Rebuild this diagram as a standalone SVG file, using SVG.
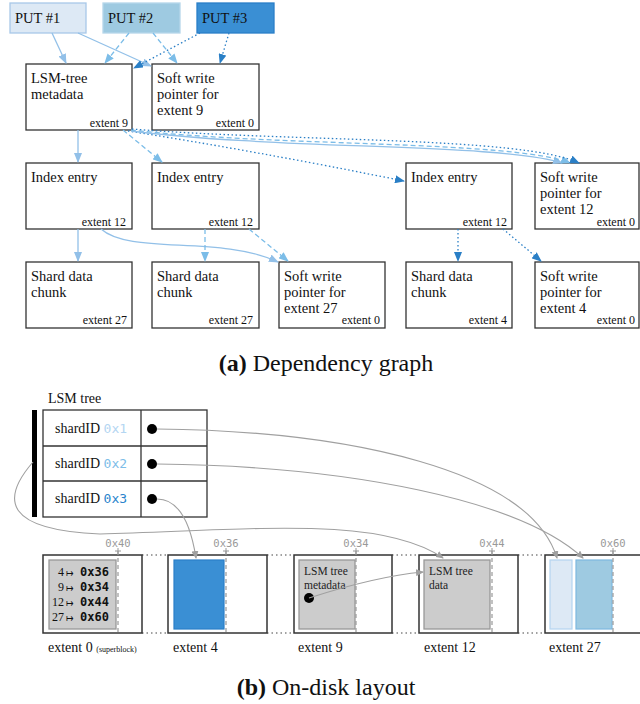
<svg xmlns="http://www.w3.org/2000/svg" width="640" height="704" viewBox="0 0 640 704">
<style>
.node{fill:#fff;stroke:#333;stroke-width:1.3}
.t{font-family:"Liberation Serif",serif;font-size:14.5px;fill:#111}
.s{font-family:"Liberation Serif",serif;font-size:12px;fill:#111;text-anchor:end}
.e1{fill:none;stroke:#92c0e8;stroke-width:1.3}
.e2{fill:none;stroke:#7cbde8;stroke-width:1.3;stroke-dasharray:5 3}
.e3{fill:none;stroke:#2a7fc6;stroke-width:1.3;stroke-dasharray:1.5 2.5}
.cap{font-family:"Liberation Serif",serif;font-size:24px;fill:#111;text-anchor:middle}
.ext{fill:#fff;stroke:#333;stroke-width:1.5}
.gray{fill:#cccccc;stroke:#999;stroke-width:1.3}
.dash{stroke:#999;stroke-width:1.2;stroke-dasharray:4 3;fill:none}
.dotc{stroke:#444;stroke-width:1.2;stroke-dasharray:1.5 3;fill:none}
.mono{font-family:"DejaVu Sans Mono",monospace}
.addr{font-family:"DejaVu Sans Mono",monospace;font-size:10.5px;fill:#999;text-anchor:middle}
.ptr{fill:none;stroke:#a0a0a0;stroke-width:1.1}
.lbl{font-family:"Liberation Serif",serif;font-size:14px;fill:#111}
</style>
<defs>
<marker id="a1" markerUnits="userSpaceOnUse" markerWidth="10" markerHeight="8" refX="9" refY="4" orient="auto"><path d="M0,0 L10,4 L0,8 z" fill="#92c0e8"/></marker>
<marker id="a2" markerUnits="userSpaceOnUse" markerWidth="10" markerHeight="8" refX="9" refY="4" orient="auto"><path d="M0,0 L10,4 L0,8 z" fill="#7cbde8"/></marker>
<marker id="a3" markerUnits="userSpaceOnUse" markerWidth="10" markerHeight="8" refX="9" refY="4" orient="auto"><path d="M0,0 L10,4 L0,8 z" fill="#2a7fc6"/></marker>
<marker id="ag" markerUnits="userSpaceOnUse" markerWidth="8" markerHeight="7" refX="7" refY="3.5" orient="auto"><path d="M0,0 L8,3.5 L0,7 z" fill="#a0a0a0"/></marker>
</defs>

<!-- (a) Dependency graph -->
<g id="put1"><rect x="10" y="3" width="76" height="30" fill="#dde9f5" stroke="#a8c8e8" stroke-width="1.3"/><text class="t" x="15" y="23">PUT #1</text></g>
<g id="put2"><rect x="103" y="3" width="77" height="30" fill="#9ecae1" stroke="#b5d6ea" stroke-width="1.3"/><text class="t" x="108" y="23">PUT #2</text></g>
<g id="put3"><rect x="197" y="3" width="77" height="30" fill="#3a8fd4" stroke="#2a7fc8" stroke-width="1.3"/><text class="t" x="202" y="23">PUT #3</text></g>

<g id="lsm"><rect class="node" x="26" y="64" width="106" height="66"/><text class="t" x="31" y="83">LSM-tree</text><text class="t" x="31" y="99">metadata</text><text class="s" x="128" y="127">extent 9</text></g>
<g id="sw9"><rect class="node" x="152" y="64" width="107" height="66"/><text class="t" x="157" y="83">Soft write</text><text class="t" x="157" y="99">pointer for</text><text class="t" x="157" y="115">extent 9</text><text class="s" x="254" y="127">extent 0</text></g>

<g id="idx1"><rect class="node" x="26" y="163" width="106" height="66"/><text class="t" x="31" y="182">Index entry</text><text class="s" x="126" y="226">extent 12</text></g>
<g id="idx2"><rect class="node" x="152" y="163" width="107" height="66"/><text class="t" x="157" y="182">Index entry</text><text class="s" x="253" y="226">extent 12</text></g>
<g id="idx3"><rect class="node" x="406" y="163" width="106" height="66"/><text class="t" x="411" y="182">Index entry</text><text class="s" x="507" y="226">extent 12</text></g>
<g id="sw12"><rect class="node" x="535" y="163" width="104" height="66"/><text class="t" x="540" y="182">Soft write</text><text class="t" x="540" y="198">pointer for</text><text class="t" x="540" y="214">extent 12</text><text class="s" x="635" y="226">extent 0</text></g>

<g id="sd1"><rect class="node" x="26" y="262" width="106" height="66"/><text class="t" x="31" y="281">Shard data</text><text class="t" x="31" y="297">chunk</text><text class="s" x="127" y="324">extent 27</text></g>
<g id="sd2"><rect class="node" x="152" y="262" width="107" height="66"/><text class="t" x="157" y="281">Shard data</text><text class="t" x="157" y="297">chunk</text><text class="s" x="253" y="324">extent 27</text></g>
<g id="sw27"><rect class="node" x="279" y="262" width="106" height="66"/><text class="t" x="284" y="281">Soft write</text><text class="t" x="284" y="297">pointer for</text><text class="t" x="284" y="313">extent 27</text><text class="s" x="380" y="324">extent 0</text></g>
<g id="sd4"><rect class="node" x="406" y="262" width="106" height="66"/><text class="t" x="411" y="281">Shard data</text><text class="t" x="411" y="297">chunk</text><text class="s" x="507" y="324">extent 4</text></g>
<g id="sw4"><rect class="node" x="535" y="262" width="104" height="66"/><text class="t" x="540" y="281">Soft write</text><text class="t" x="540" y="297">pointer for</text><text class="t" x="540" y="313">extent 4</text><text class="s" x="635" y="324">extent 0</text></g>

<g id="connectors">
<path class="e1" d="M52,33 L66,63" marker-end="url(#a1)"/>
<path class="e1" d="M78,33 L151,66" marker-end="url(#a1)"/>
<path class="e2" d="M129,33 L105,63" marker-end="url(#a2)"/>
<path class="e2" d="M153,33 L177,63" marker-end="url(#a2)"/>
<path class="e3" d="M200,33 L134,68" marker-end="url(#a3)"/>
<path class="e3" d="M229,33 L220,63" marker-end="url(#a3)"/>
<path class="e1" d="M78,130 L78,162" marker-end="url(#a1)"/>
<path class="e2" d="M123,130 L162,162" marker-end="url(#a2)"/>
<path class="e3" d="M128,131 Q250,150 404,181" marker-end="url(#a3)"/>
<path class="e1" d="M131,131 C280,150 500,143 562,163" marker-end="url(#a1)"/>
<path class="e2" d="M131,130 C280,147 510,140 570,163" marker-end="url(#a2)"/>
<path class="e3" d="M132,129 C290,142 520,136 579,163" marker-end="url(#a3)"/>
<path class="e1" d="M78,229 L78,261" marker-end="url(#a1)"/>
<path class="e1" d="M101,229 C130,255 220,235 278,262" marker-end="url(#a1)"/>
<path class="e2" d="M205,229 L205,261" marker-end="url(#a2)"/>
<path class="e2" d="M249,229 L288,261" marker-end="url(#a2)"/>
<path class="e3" d="M458,229 L458,261" marker-end="url(#a3)"/>
<path class="e3" d="M503,229 L541,261" marker-end="url(#a3)"/>
</g>

<text class="cap" x="326" y="371"><tspan font-weight="bold">(a)</tspan> Dependency graph</text>

<!-- (b) On-disk layout -->
<text class="lbl" x="48" y="403">LSM tree</text>
<g id="lsmtable">
<rect x="32" y="410" width="5" height="107" fill="#000"/>
<rect x="43" y="410" width="164" height="107" fill="#fff" stroke="#333" stroke-width="1.3"/>
<line x1="43" y1="446" x2="207" y2="446" stroke="#333" stroke-width="1.3"/>
<line x1="43" y1="481" x2="207" y2="481" stroke="#333" stroke-width="1.3"/>
<line x1="141" y1="410" x2="141" y2="517" stroke="#333" stroke-width="1.3"/>
<text class="lbl" x="55" y="433">shardID <tspan class="mono" font-size="13" fill="#b4d6f2">0x1</tspan></text>
<text class="lbl" x="55" y="468">shardID <tspan class="mono" font-size="13" fill="#7cbde8">0x2</tspan></text>
<text class="lbl" x="55" y="503">shardID <tspan class="mono" font-size="13" fill="#2a84cc">0x3</tspan></text>
<circle cx="152" cy="429" r="5" fill="#000"/>
<circle cx="152" cy="464" r="5" fill="#000"/>
<circle cx="152" cy="499" r="5" fill="#000"/>
</g>

<g id="dots">
<path class="dotc" d="M142,555 H168 M142,633 H168 M267,555 H294 M267,633 H294 M392,555 H419 M392,633 H419 M518,555 H545 M518,633 H545"/>
</g>

<g id="ext0">
<rect class="ext" x="43" y="555" width="99" height="78"/>
<rect class="gray" x="49" y="560" width="67" height="69"/>
<line class="dash" x1="118" y1="551" x2="118" y2="633"/>
<path d="M115,551 H121 M118,548 V554" stroke="#999" stroke-width="1"/>
<text class="addr" x="118" y="547">0x40</text>
<g font-family="Liberation Serif,serif" font-size="12" fill="#111">
<text x="64" y="576" text-anchor="end">4</text><text x="64" y="591" text-anchor="end">9</text><text x="64" y="606" text-anchor="end">12</text><text x="64" y="621" text-anchor="end">27</text>
<text x="66" y="576" font-size="9">↦</text><text x="66" y="591" font-size="9">↦</text><text x="66" y="606" font-size="9">↦</text><text x="66" y="621" font-size="9">↦</text>
</g>
<g class="mono" font-size="12" fill="#111" font-weight="bold">
<text x="80" y="576">0x36</text><text x="80" y="591">0x34</text><text x="80" y="606">0x44</text><text x="80" y="621">0x60</text>
</g>
<text class="lbl" x="48" y="652">extent 0 <tspan font-size="8">(superblock)</tspan></text>
</g>

<g id="ext4">
<rect class="ext" x="168" y="555" width="99" height="78"/>
<rect x="174" y="560" width="50" height="69" fill="#3a8fd4" stroke="#2a7fc8" stroke-width="1.2"/>
<line class="dash" x1="226" y1="551" x2="226" y2="633"/>
<path d="M223,551 H229 M226,548 V554" stroke="#999" stroke-width="1"/>
<text class="addr" x="226" y="547">0x36</text>
<text class="lbl" x="173" y="652">extent 4</text>
</g>

<g id="ext9">
<rect class="ext" x="294" y="555" width="98" height="78"/>
<rect class="gray" x="299" y="560" width="56" height="69"/>
<line class="dash" x1="356" y1="551" x2="356" y2="633"/>
<path d="M353,551 H359 M356,548 V554" stroke="#999" stroke-width="1"/>
<text class="addr" x="356" y="547">0x34</text>
<text font-family="Liberation Serif,serif" font-size="11.5" fill="#222" x="304" y="575">LSM tree</text>
<text font-family="Liberation Serif,serif" font-size="11.5" fill="#222" x="304" y="589">metadata</text>
<circle cx="309" cy="598" r="5" fill="#000"/>
<text class="lbl" x="298" y="652">extent 9</text>
</g>

<g id="ext12">
<rect class="ext" x="419" y="555" width="99" height="78"/>
<rect class="gray" x="424" y="560" width="66" height="69"/>
<line class="dash" x1="492" y1="551" x2="492" y2="633"/>
<path d="M489,551 H495 M492,548 V554" stroke="#999" stroke-width="1"/>
<text class="addr" x="492" y="547">0x44</text>
<text font-family="Liberation Serif,serif" font-size="11.5" fill="#222" x="429" y="575">LSM tree</text>
<text font-family="Liberation Serif,serif" font-size="11.5" fill="#222" x="429" y="589">data</text>
<text class="lbl" x="424" y="652">extent 12</text>
</g>

<g id="ext27">
<rect class="ext" x="545" y="555" width="100" height="78"/>
<rect x="550" y="560" width="22" height="69" fill="#dde9f5" stroke="#b4d4f0" stroke-width="1.2"/>
<rect x="576" y="560" width="36" height="69" fill="#9ecae1" stroke="#7db8e0" stroke-width="1.2"/>
<line class="dash" x1="613" y1="551" x2="613" y2="633"/>
<path d="M610,551 H616 M613,548 V554" stroke="#999" stroke-width="1"/>
<text class="addr" x="613" y="547">0x60</text>
<text class="lbl" x="549" y="652">extent 27</text>
</g>

<g id="pointers">
<path class="ptr" d="M157,429 C350,431 530,470 557,558" marker-end="url(#ag)"/>
<path class="ptr" d="M157,464 C350,466 520,500 583,558" marker-end="url(#ag)"/>
<path class="ptr" d="M157,499 C178,499 190,520 196,558" marker-end="url(#ag)"/>
<path class="ptr" d="M33,462 C0,500 5,530 100,534 C250,530 380,515 443,558" marker-end="url(#ag)"/>
<path class="ptr" d="M309,598 C340,588 380,576 423,572" marker-end="url(#ag)"/>
</g>

<text class="cap" x="326" y="695"><tspan font-weight="bold">(b)</tspan> On-disk layout</text>
</svg>
